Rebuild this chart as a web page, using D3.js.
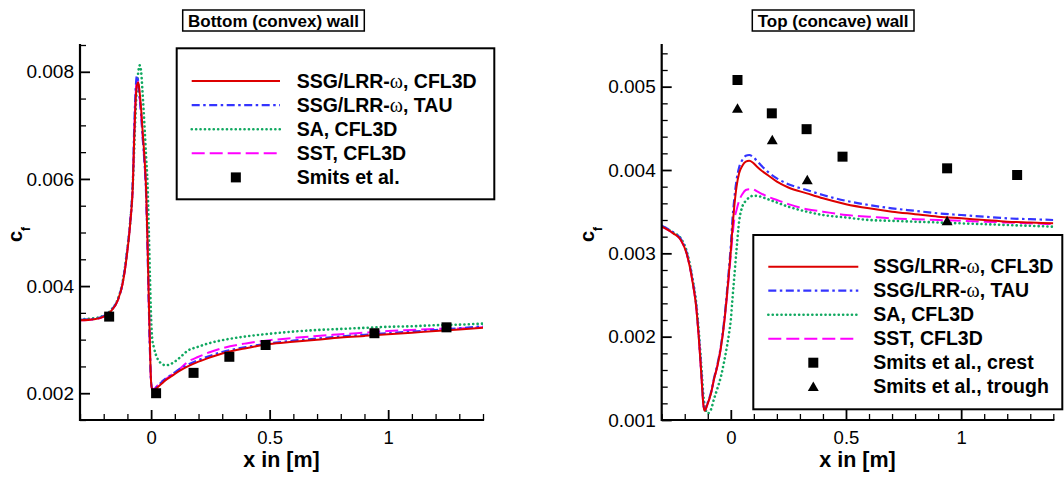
<!DOCTYPE html>
<html><head><meta charset="utf-8">
<script src="https://cdn.jsdelivr.net/npm/d3@7"></script>
<style>
html,body{margin:0;padding:0;background:#fff;}
svg{display:block;font-family:"Liberation Sans",Arial,Helvetica,sans-serif;}
</style></head><body>
<svg id="chart" width="1064" height="477"></svg>
<script>
// ---------------- DATA ----------------
const seriesNames = ["SSG/LRR-\u03c9, CFL3D", "SSG/LRR-\u03c9, TAU", "SA, CFL3D", "SST, CFL3D"];
const bottomExpName = ["Smits et al."];
const topExpNames = ["Smits et al., crest", "Smits et al., trough"];
const panelTitles = ["Bottom (convex) wall", "Top (concave) wall"];
const xTickLabels = [0, 0.5, 1];
const bottomYTickLabels = [0.002, 0.004, 0.006, 0.008];
const topYTickLabels = [0.001, 0.002, 0.003, 0.004, 0.005];

// Bottom (convex) wall
const bottomX = [-0.3, -0.24, -0.2, -0.17, -0.14, -0.12, -0.103, -0.088, -0.077, -0.071, -0.066, -0.06, -0.054, -0.048, -0.042, -0.036, -0.028, -0.021, -0.015, -0.01, -0.005, 0, 0.005, 0.012, 0.02, 0.03, 0.045, 0.06, 0.08, 0.1, 0.125, 0.15, 0.2, 0.25, 0.3, 0.4, 0.5, 0.6, 0.7, 0.8, 0.9, 1.0, 1.1, 1.2, 1.3, 1.4];
const bottomSSG = [0.00336, 0.00338, 0.00343, 0.00353, 0.00374, 0.00405, 0.00455, 0.00518, 0.0059, 0.0068, 0.0074, 0.00775, 0.0078, 0.0076, 0.0073, 0.0069, 0.0064, 0.0058, 0.0048, 0.0038, 0.0029, 0.0022, 0.00206, 0.00206, 0.00208, 0.00212, 0.00218, 0.00224, 0.0023, 0.00236, 0.00243, 0.00249, 0.00259, 0.00267, 0.00274, 0.00284, 0.00292, 0.00296, 0.003, 0.00304, 0.00307, 0.0031, 0.00313, 0.00316, 0.00319, 0.00322];
const bottomTAU = [0.00337, 0.00339, 0.00344, 0.00354, 0.00375, 0.00407, 0.00458, 0.00522, 0.006, 0.007, 0.0076, 0.00792, 0.0078, 0.0075, 0.0072, 0.0068, 0.0063, 0.0057, 0.0047, 0.0037, 0.0028, 0.0022, 0.00207, 0.00208, 0.0021, 0.00215, 0.00221, 0.00227, 0.00233, 0.00239, 0.00246, 0.00252, 0.00262, 0.0027, 0.00277, 0.00286, 0.00293, 0.00298, 0.00302, 0.00306, 0.00309, 0.00312, 0.00315, 0.00318, 0.00321, 0.00325];
const bottomSA = [0.00338, 0.0034, 0.00345, 0.00355, 0.00376, 0.00408, 0.0046, 0.0052, 0.0059, 0.0066, 0.0072, 0.0077, 0.008, 0.00812, 0.008, 0.0076, 0.007, 0.0064, 0.0059, 0.0051, 0.0042, 0.0034, 0.003, 0.00285, 0.00272, 0.00262, 0.00255, 0.00252, 0.00254, 0.00259, 0.00268, 0.00278, 0.00287, 0.00294, 0.00299, 0.00306, 0.00311, 0.00315, 0.00318, 0.0032, 0.00322, 0.00324, 0.00325, 0.00327, 0.00328, 0.0033];
const bottomSST = [0.00336, 0.00338, 0.00343, 0.00353, 0.00374, 0.00405, 0.00456, 0.0052, 0.0059, 0.0069, 0.0075, 0.00788, 0.0077, 0.0075, 0.0072, 0.0068, 0.0063, 0.0057, 0.0047, 0.0037, 0.0028, 0.0022, 0.00207, 0.00208, 0.00211, 0.00216, 0.00222, 0.00226, 0.00232, 0.00239, 0.00247, 0.00257, 0.00268, 0.00277, 0.00284, 0.00293, 0.00299, 0.00303, 0.00307, 0.0031, 0.00313, 0.00316, 0.00318, 0.0032, 0.00321, 0.00323];
const bottomExpX = [-0.177, 0.021, 0.179, 0.33, 0.483, 0.942, 1.246];
const bottomExpCf = [0.00343, 0.002, 0.00238, 0.00268, 0.0029, 0.00312, 0.00323];

// Top (concave) wall
const topX = [-0.3, -0.25, -0.217, -0.192, -0.165, -0.15, -0.139, -0.128, -0.119, -0.114, -0.1, -0.087, -0.072, -0.058, -0.043, -0.029, -0.015, -0.007, 0, 0.007, 0.014, 0.025, 0.036, 0.05, 0.065, 0.08, 0.095, 0.11, 0.13, 0.16, 0.2, 0.25, 0.33, 0.4, 0.5, 0.6, 0.7, 0.8, 0.9, 1.0, 1.1, 1.2, 1.3, 1.4];
const topSSG = [0.00332, 0.00324, 0.00316, 0.003, 0.00264, 0.00235, 0.00199, 0.00155, 0.00118, 0.00111, 0.0012, 0.00131, 0.0015, 0.00165, 0.00187, 0.00216, 0.00255, 0.0028, 0.00303, 0.0033, 0.00353, 0.0038, 0.00396, 0.00405, 0.0041, 0.00411, 0.00409, 0.00405, 0.004, 0.00394, 0.00386, 0.00379, 0.00372, 0.00366, 0.00359, 0.00354, 0.0035, 0.00347, 0.00344, 0.00342, 0.0034, 0.00338, 0.00337, 0.00336];
const topTAU = [0.00333, 0.00325, 0.00317, 0.00301, 0.00266, 0.00237, 0.00201, 0.00157, 0.0012, 0.00112, 0.00121, 0.00132, 0.00151, 0.00167, 0.00189, 0.00219, 0.00259, 0.00285, 0.00309, 0.0034, 0.00362, 0.00388, 0.00403, 0.00412, 0.00417, 0.00418, 0.00416, 0.00412, 0.00406, 0.00398, 0.0039, 0.00383, 0.00376, 0.0037, 0.00363, 0.00358, 0.00354, 0.00351, 0.00348, 0.00346, 0.00344, 0.00342, 0.00341, 0.0034];
const topSA = [0.00333, 0.00325, 0.00318, 0.00303, 0.00268, 0.0024, 0.00207, 0.00165, 0.0013, 0.00118, 0.00108, 0.00112, 0.00126, 0.00138, 0.00152, 0.0017, 0.00191, 0.00205, 0.0022, 0.00245, 0.00268, 0.00305, 0.00338, 0.00356, 0.00363, 0.00367, 0.00369, 0.00369, 0.00368, 0.00365, 0.00361, 0.00356, 0.0035, 0.00346, 0.00343, 0.0034, 0.00339, 0.00338, 0.00337, 0.00336, 0.00335, 0.00334, 0.00333, 0.00332];
const topSST = [0.00332, 0.00324, 0.00316, 0.003, 0.00264, 0.00235, 0.00199, 0.00155, 0.00118, 0.00111, 0.0012, 0.00131, 0.0015, 0.00165, 0.00187, 0.00216, 0.00253, 0.00276, 0.00298, 0.0032, 0.00338, 0.00352, 0.00363, 0.00371, 0.00376, 0.00377, 0.00377, 0.00375, 0.00372, 0.00368, 0.00364, 0.00359, 0.00353, 0.0035, 0.00346, 0.00344, 0.00342, 0.00341, 0.0034, 0.00339, 0.00338, 0.00337, 0.00336, 0.00335];
const topCrestX = [0.029, 0.178, 0.329, 0.485, 0.939, 1.243];
const topCrestCf = [0.00508, 0.00468, 0.00449, 0.00416, 0.00402, 0.00394];
const topTroughX = [0.029, 0.18, 0.332, 0.939];
const topTroughCf = [0.00474, 0.00436, 0.00388, 0.00339];

// ---------------- STYLES ----------------
const lineStyles = [
  {color: "#dd0000", dash: null, width: 2, cap: "butt"},
  {color: "#3434ff", dash: "8,3.5,2.5,3.5", width: 2.2, cap: "butt"},
  {color: "#10a860", dash: "0.1,4.3", width: 2.6, cap: "round"},
  {color: "#ff00ff", dash: "13,5", width: 2, cap: "butt"}
];

const svg = d3.select("#chart");
const FONT = '"Liberation Sans",Arial,Helvetica,sans-serif';

const panels = [
  {
    title: panelTitles[0], titleBox: [182.7, 10, 181.6, 21],
    px: [80, 483], py: [420, 45], xDom: [-0.3, 1.4], yDom: [0.0015, 0.0085],
    yMajor: bottomYTickLabels, yMinor: d3.range(3, 18).map(i => +(i * 0.0005).toFixed(5)),
    cfX: 21.5,
    series: [bottomSSG, bottomTAU, bottomSA, bottomSST].map(v => bottomX.map((x, i) => [x, v[i]])),
    squares: bottomExpX.map((x, i) => [x, bottomExpCf[i]]),
    triangles: [],
    legend: {box: [176.7, 48.3, 317.6, 151], rowY: 81, rowDy: 24.1, lineX: [191.7, 280], textX: 296.7,
             labels: seriesNames.concat(bottomExpName)}
  },
  {
    title: panelTitles[1], titleBox: [752.3, 10, 161.7, 21],
    px: [661.7, 1053.3], py: [420, 45], xDom: [-0.3, 1.4], yDom: [0.001, 0.0055],
    yMajor: topYTickLabels, yMinor: d3.range(5, 28).map(i => +(i * 0.0002).toFixed(5)),
    cfX: 594,
    series: [topSSG, topTAU, topSA, topSST].map(v => topX.map((x, i) => [x, v[i]])),
    squares: topCrestX.map((x, i) => [x, topCrestCf[i]]),
    triangles: topTroughX.map((x, i) => [x, topTroughCf[i]]),
    legend: {box: [753.3, 235, 309, 174.3], rowY: 266.7, rowDy: 24, lineX: [768.3, 858.3], textX: 873.3,
             labels: seriesNames.concat(topExpNames)}
  }
];

const xMinor = d3.range(-3, 15).map(i => i / 10).filter(v => !xTickLabels.includes(v));

panels.forEach((p, pi) => {
  const x = d3.scaleLinear().domain(p.xDom).range(p.px);
  const y = d3.scaleLinear().domain(p.yDom).range(p.py);
  const g = svg.append("g");

  // title box
  g.append("rect").attr("x", p.titleBox[0]).attr("y", p.titleBox[1])
    .attr("width", p.titleBox[2]).attr("height", p.titleBox[3])
    .attr("fill", "#fff").attr("stroke", "#000").attr("stroke-width", 1.5);
  g.append("text").attr("x", p.titleBox[0] + p.titleBox[2] / 2).attr("y", p.titleBox[1] + 17)
    .attr("text-anchor", "middle").attr("font-weight", "bold").attr("font-size", 17)
    .text(p.title);

  // clip
  const cid = "clip" + pi;
  svg.append("defs").append("clipPath").attr("id", cid).append("rect")
    .attr("x", p.px[0]).attr("y", p.py[1]).attr("width", p.px[1] - p.px[0]).attr("height", p.py[0] - p.py[1]);

  // curves (draw in reverse so red is on top)
  const line = d3.line().x(d => x(d[0])).y(d => y(d[1])).curve(d3.curveMonotoneX);
  const order = [2, 3, 1, 0];
  order.forEach(si => {
    const st = lineStyles[si];
    g.append("path").datum(p.series[si]).attr("d", line)
      .attr("fill", "none").attr("stroke", st.color).attr("stroke-width", st.width)
      .attr("stroke-dasharray", st.dash).attr("stroke-linecap", st.cap)
      .attr("stroke-linejoin", "round").attr("clip-path", `url(#${cid})`);
  });

  // experiments
  const sq = d3.symbol(d3.symbolSquare, 100);
  const tri = d3.symbol(d3.symbolTriangle, 52);
  g.selectAll(null).data(p.squares).join("path")
    .attr("d", sq).attr("transform", d => `translate(${x(d[0])},${y(d[1])})`).attr("fill", "#000");
  g.selectAll(null).data(p.triangles).join("path")
    .attr("d", tri).attr("transform", d => `translate(${x(d[0])},${y(d[1]) + 1.2})`).attr("fill", "#000");

  // axes - minor
  g.append("g").attr("transform", `translate(0,${p.py[0]})`)
    .call(d3.axisBottom(x).tickValues(xMinor).tickSize(-6).tickSizeOuter(0).tickFormat(""))
    .call(a => a.select(".domain").remove())
    .call(a => a.selectAll("line").attr("stroke-width", 1.3));
  g.append("g").attr("transform", `translate(${p.px[0]},0)`)
    .call(d3.axisLeft(y).tickValues(p.yMinor.filter(v => !p.yMajor.some(m => Math.abs(m - v) < 1e-9))).tickSize(-6).tickSizeOuter(0).tickFormat(""))
    .call(a => a.select(".domain").remove())
    .call(a => a.selectAll("line").attr("stroke-width", 1.3));
  // axes - major
  g.append("g").attr("transform", `translate(0,${p.py[0]})`)
    .call(d3.axisBottom(x).tickValues(xTickLabels).tickSize(-10).tickSizeOuter(0).tickPadding(10.5).tickFormat(d3.format("")))
    .call(a => a.select(".domain").remove())
    .call(a => a.selectAll("line").attr("stroke-width", 1.8))
    .call(a => a.selectAll("text").attr("font-size", 18.5).attr("font-family", FONT).attr("fill", "#000"));
  g.append("g").attr("transform", `translate(${p.px[0]},0)`)
    .call(d3.axisLeft(y).tickValues(p.yMajor).tickSize(-10).tickSizeOuter(0).tickPadding(6).tickFormat(d3.format(".3f")))
    .call(a => a.select(".domain").remove())
    .call(a => a.selectAll("line").attr("stroke-width", 1.8))
    .call(a => a.selectAll("text").attr("font-size", 19).attr("font-family", FONT).attr("fill", "#000"));
  // axis lines
  g.append("path")
    .attr("d", d3.line()([[p.px[0], p.py[1]], [p.px[0], p.py[0]], [p.px[1], p.py[0]]]))
    .attr("fill", "none").attr("stroke", "#000").attr("stroke-width", 2.2).attr("stroke-linecap", "square");

  // axis titles
  g.append("text").attr("x", (p.px[0] + p.px[1]) / 2).attr("y", 467)
    .attr("text-anchor", "middle").attr("font-weight", "bold").attr("font-size", 21.5)
    .text("x in [m]");
  const cf = g.append("text").attr("transform", `translate(${p.cfX},242) rotate(-90)`)
    .attr("font-weight", "bold").attr("font-size", 20);
  cf.append("tspan").text("c");
  cf.append("tspan").attr("font-size", 12).attr("dy", 8).text("f");

  // legend
  const L = p.legend;
  g.append("rect").attr("x", L.box[0]).attr("y", L.box[1]).attr("width", L.box[2]).attr("height", L.box[3])
    .attr("fill", "#fff").attr("stroke", "#000").attr("stroke-width", 2);
  L.labels.forEach((lab, i) => {
    const ry = L.rowY + i * L.rowDy;
    if (i < 4) {
      const st = lineStyles[i];
      g.append("line").attr("x1", L.lineX[0]).attr("x2", L.lineX[1]).attr("y1", ry).attr("y2", ry)
        .attr("stroke", st.color).attr("stroke-width", st.width).attr("stroke-dasharray", st.dash)
        .attr("stroke-linecap", st.cap);
    } else {
      const cx = (L.lineX[0] + L.lineX[1]) / 2;
      g.append("path").attr("d", i === 4 ? sq : tri)
        .attr("transform", `translate(${cx},${ry + (i === 5 ? 1.2 : 0)})`).attr("fill", "#000");
    }
    const t = g.append("text").attr("x", L.textX).attr("y", ry + 6.5)
      .attr("font-weight", "bold").attr("font-size", 19.5);
    const parts = lab.split("\u03c9");
    t.append("tspan").text(parts[0]);
    if (parts.length > 1) {
      t.append("tspan").attr("font-family", '"Liberation Serif","DejaVu Serif",serif')
        .attr("font-weight", "normal").attr("font-size", 20).text("\u03c9");
      t.append("tspan").text(parts[1]);
    }
  });
});
</script>
</body></html>
